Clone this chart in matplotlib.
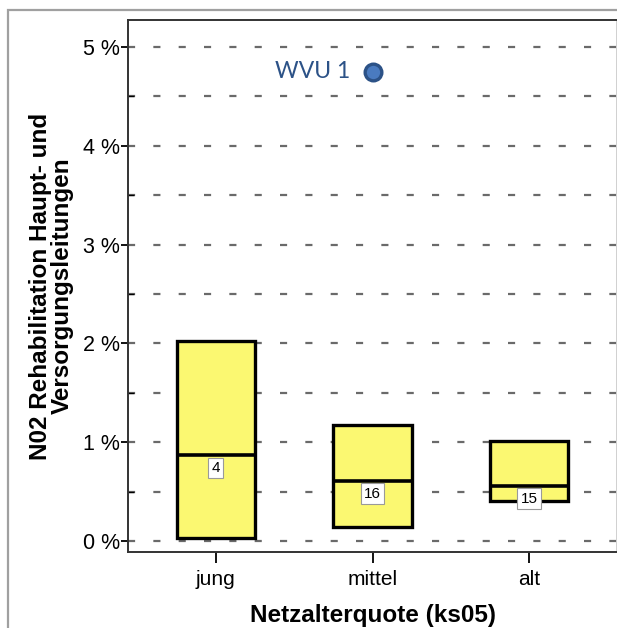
import matplotlib.pyplot as plt
from matplotlib.patches import Rectangle

# Werte (in %)
kategorien = ["jung", "mittel", "alt"]
unten = [0.03, 0.14, 0.41]
median = [0.87, 0.61, 0.56]
oben = [2.02, 1.17, 1.01]
anzahl = [4, 16, 15]
wvu_kategorie = 1
wvu_wert = 4.75
yticks = [0, 1, 2, 3, 4, 5]
ytick_labels = ["0 %", "1 %", "2 %", "3 %", "4 %", "5 %"]

plt.rcParams['font.family'] = ['Liberation Sans', 'DejaVu Sans']

fig = plt.figure(figsize=(6.17, 6.28), dpi=100)

# grauer Rahmen aussen
fig.patches.append(Rectangle((8/617, -0.1), 1.2, 1 - 10/628 + 0.1, transform=fig.transFigure,
                             fill=False, edgecolor="#a0a0a0", linewidth=1.6))

ax = fig.add_axes([128/617, 1 - 552/628, 489/617, 532/628])
ax.set_xlim(-0.56, 2.56)
ax.set_ylim(-0.111, 5.273)

# gepunktete Hilfslinien alle 0,5 %
for i in range(11):
    ax.axhline(i * 0.5, color="#6a6a6a", linewidth=1.6, dashes=(3.2, 8.2), zorder=1)

breite = 0.5
for i in range(len(kategorien)):
    ax.add_patch(Rectangle((i - breite/2, unten[i]), breite, oben[i] - unten[i],
                           facecolor="#fbf871", edgecolor="black", linewidth=2.4, zorder=2))
    ax.plot([i - breite/2, i + breite/2], [median[i], median[i]], color="black",
            linewidth=2.6, zorder=3, solid_capstyle="butt")
    ax.text(i, median[i] - 0.06, str(anzahl[i]), ha="center", va="top", fontsize=11,
            zorder=4,
            bbox=dict(boxstyle="square,pad=0.22", facecolor="white", edgecolor="#9a9a9a", linewidth=0.8))

ax.plot([wvu_kategorie], [wvu_wert], "o", markersize=12, markerfacecolor="#4a7bc0",
        markeredgecolor="#2c5287", markeredgewidth=2.4, zorder=5)
ax.annotate("WVU 1", (wvu_kategorie, wvu_wert), xytext=(-16, 0), textcoords="offset points",
            ha="right", va="center", fontsize=16.5, color="#2c5287", family=['Lato', 'DejaVu Sans'])

ax.set_xticks(range(len(kategorien)))
ax.set_xticklabels(kategorien, fontsize=15)
ax.set_yticks(yticks)
ax.set_yticklabels(ytick_labels, fontsize=15.5)
ax.set_yticks([0.5, 1.5, 2.5, 3.5, 4.5], minor=True)
ax.tick_params(axis="y", which="major", direction="out", length=5, width=1.3, pad=1)
ax.tick_params(axis="y", which="minor", direction="in", length=4, width=1.0)
ax.tick_params(axis="x", direction="out", length=8, width=1.3, pad=5)

for s in ax.spines.values():
    s.set_linewidth(1.4)
    s.set_color("#333333")
ax.spines["right"].set_color("#d0d0d0")

ax.set_xlabel("Netzalterquote (ks05)", fontsize=17.5, fontweight="bold", labelpad=11)
ax.set_ylabel("N02 Rehabilitation Haupt- und\nVersorgungsleitungen", fontsize=17.5,
              fontweight="bold", labelpad=6, linespacing=0.95)

fig.savefig("out.png", dpi=100)
